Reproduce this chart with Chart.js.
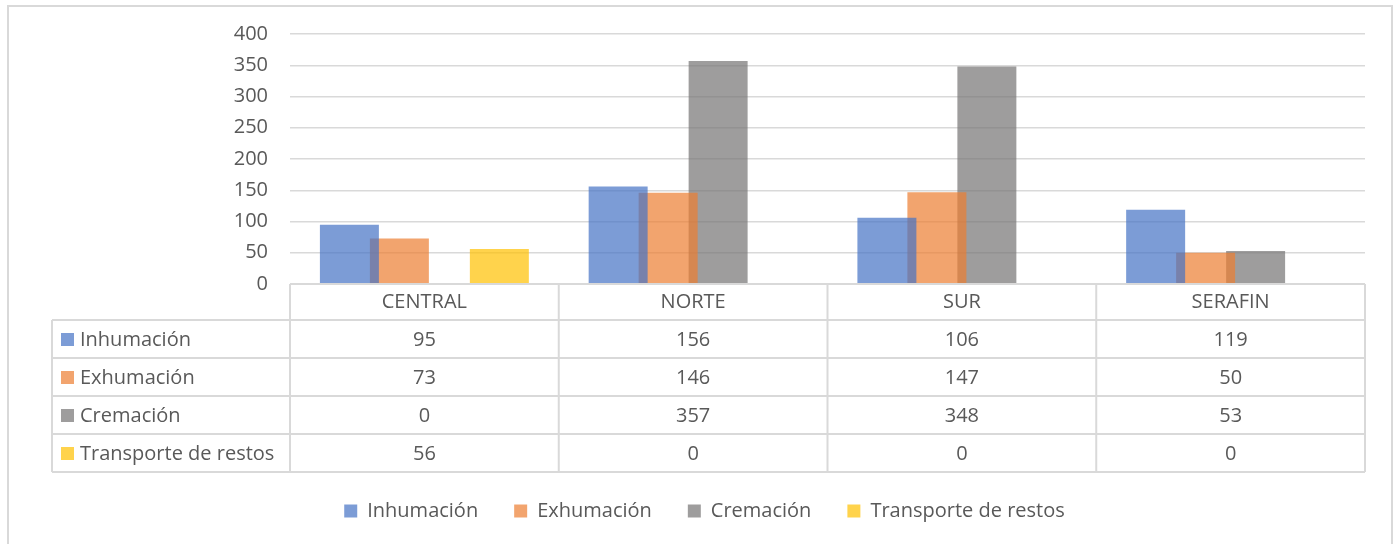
<!DOCTYPE html>
<html>
<head>
<meta charset="utf-8">
<script src="https://cdn.jsdelivr.net/npm/chart.js@4"></script>
<style>
body{margin:0;background:#fff;}
</style>
</head>
<body>
<canvas id="myChart" width="1396" height="544"></canvas>
<script>
// datos
const categorias = ['CENTRAL', 'NORTE', 'SUR', 'SERAFIN'];
const nombresSeries = ['Inhumación', 'Exhumación', 'Cremación', 'Transporte de restos'];
const inhumacion = [95, 156, 106, 119];
const exhumacion = [73, 146, 147, 50];
const cremacion = [0, 357, 348, 53];
const transporte = [56, 0, 0, 0];
const ejeY = {min: 0, max: 400, paso: 50};

const colores = ['rgba(68,114,196,0.7)', 'rgba(237,125,49,0.7)', 'rgba(117,116,115,0.7)', 'rgba(255,192,0,0.7)'];
const valores = [inhumacion, exhumacion, cremacion, transporte];

const fuente = '"Open Sans", Lato, sans-serif';
const tamFuente = 20;
const colorTexto = '#595959';
const colorLinea = '#D9D9D9';

// tabla de datos debajo del grafico, alineada con el eje x
const tablaDatos = {
    id: 'tablaDatos',
    beforeDraw(chart){
        let ctx = chart.ctx;
        ctx.save();
        ctx.strokeStyle = colorLinea;
        ctx.lineWidth = 2;
        ctx.strokeRect(8, 6, 1384, 560);
        ctx.restore();
    },
    afterDraw(chart){
        let ctx = chart.ctx;
        let area = chart.chartArea;
        let escalaX = chart.scales.x;
        let anchoCat = (area.right - area.left) / categorias.length;
        let yCab = area.bottom;
        let altoCab = 36;
        let altoFila = 38;
        let izq = 52;
        let yFin = yCab + altoCab + altoFila * nombresSeries.length;

        ctx.save();
        ctx.strokeStyle = colorLinea;
        ctx.lineWidth = 2;

        ctx.beginPath();
        ctx.moveTo(area.left, yCab);
        ctx.lineTo(area.right, yCab);
        for (let f = 0; f <= nombresSeries.length; f++){
            let y = yCab + altoCab + altoFila * f;
            ctx.moveTo(izq, y);
            ctx.lineTo(area.right, y);
        }
        ctx.moveTo(izq, yCab + altoCab);
        ctx.lineTo(izq, yFin);
        for (let c = 0; c <= categorias.length; c++){
            let x = area.left + anchoCat * c;
            ctx.moveTo(x, yCab);
            ctx.lineTo(x, yFin);
        }
        ctx.stroke();

        ctx.fillStyle = colorTexto;
        ctx.font = tamFuente + 'px ' + fuente;
        ctx.textBaseline = 'middle';
        ctx.textAlign = 'center';
        for (let c = 0; c < categorias.length; c++){
            let xc = escalaX.getPixelForValue(c);
            ctx.fillText(categorias[c], xc, yCab + altoCab / 2);
            for (let f = 0; f < nombresSeries.length; f++){
                ctx.fillText(String(valores[f][c]), xc, yCab + altoCab + altoFila * f + altoFila / 2 + 1);
            }
        }

        ctx.textAlign = 'left';
        for (let f = 0; f < nombresSeries.length; f++){
            let yc = yCab + altoCab + altoFila * f + altoFila / 2;
            ctx.fillStyle = colores[f];
            ctx.fillRect(61, yc - 6, 13, 13);
            ctx.fillStyle = colorTexto;
            ctx.fillText(nombresSeries[f], 80, yc + 1);
        }
        ctx.restore();
    }
};

let datasets = [];
for (let i = 0; i < nombresSeries.length; i++){
    datasets.push({
        label: nombresSeries[i],
        data: valores[i],
        backgroundColor: colores[i],
        borderWidth: 0,
        categoryPercentage: 0.744,
        barPercentage: 1.18
    });
}

const config = {
    type: 'bar',
    data: {
        labels: categorias,
        datasets: datasets
    },
    options: {
        responsive: false,
        animation: false,
        layout: {
            padding: {top: 29, right: 31, bottom: 13, left: 44}
        },
        plugins: {
            tooltip: {enabled: false},
            legend: {
                position: 'bottom',
                labels: {
                    boxWidth: 13,
                    boxHeight: 13,
                    padding: 36,
                    color: colorTexto,
                    font: {family: fuente, size: tamFuente}
                }
            }
        },
        scales: {
            x: {
                grid: {display: false},
                border: {display: false},
                ticks: {display: false},
                afterFit: function(scale){ scale.height = 181; }
            },
            y: {
                min: ejeY.min,
                max: ejeY.max,
                ticks: {
                    stepSize: ejeY.paso,
                    padding: 22,
                    color: colorTexto,
                    font: {family: fuente, size: tamFuente}
                },
                grid: {color: colorLinea, lineWidth: 1.5, drawTicks: false},
                border: {display: false},
                afterFit: function(scale){ scale.width = 246; }
            }
        }
    },
    plugins: [tablaDatos]
};

let myChart = document.getElementById('myChart');
let grafico = new Chart(myChart, config);
</script>
</body>
</html>
